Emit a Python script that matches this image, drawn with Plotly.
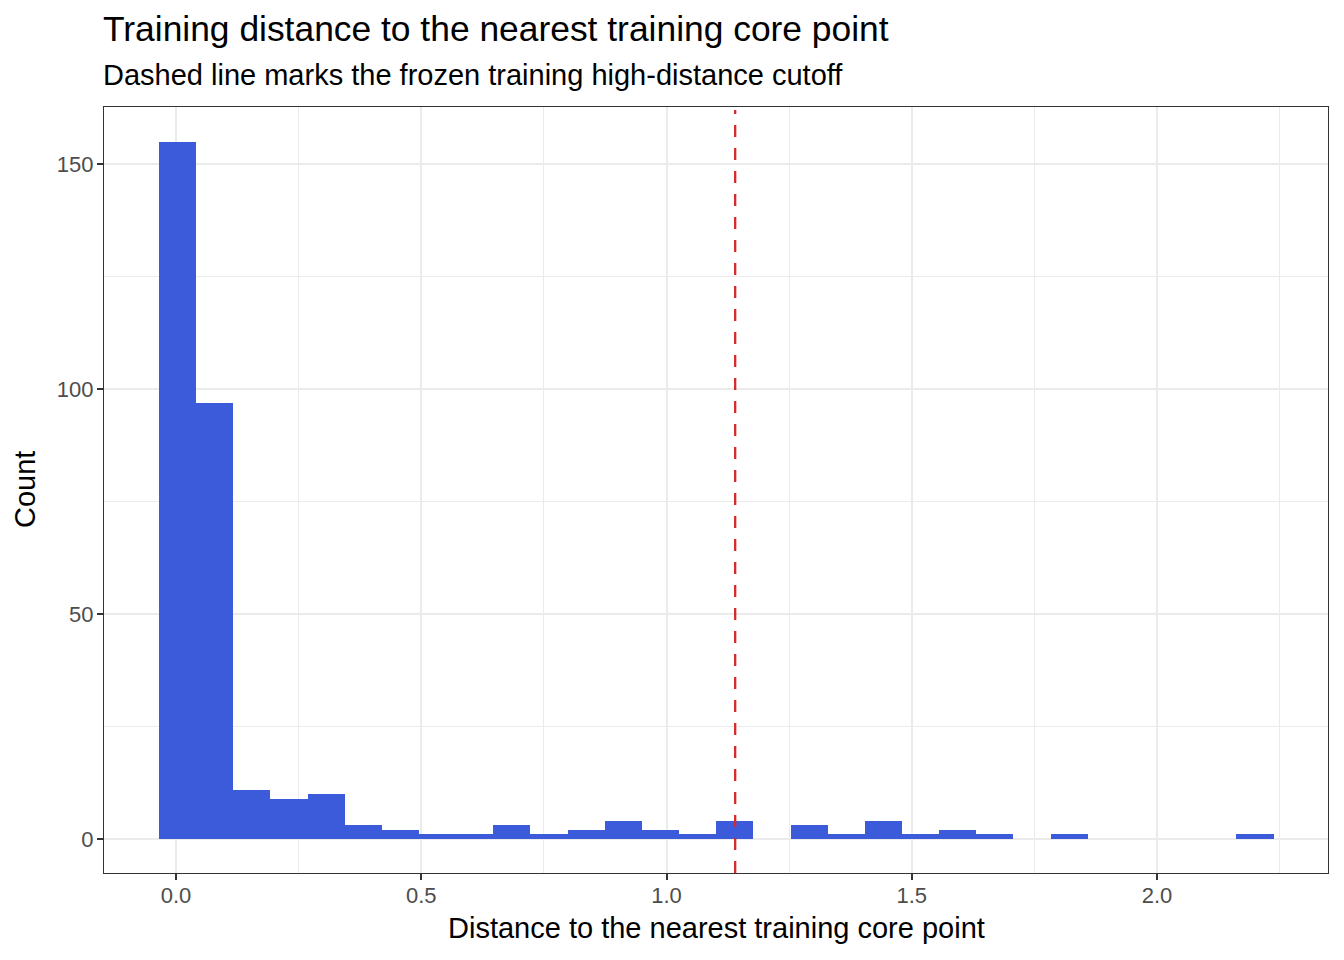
"""
Histogram of training distance to the nearest training core point,
with the frozen high-distance cutoff drawn as a dashed line.
"""

import plotly.graph_objects as go

# 30 equal bins (ggplot-style); first bin centred at the data minimum
bin_first_center = 0.003
bin_width = 0.07575
bin_counts = [155, 97, 11, 9, 10, 3, 2, 1, 1, 3,
              1, 2, 4, 2, 1, 4, 0, 3, 1, 4,
              1, 2, 1, 0, 1, 0, 0, 0, 0, 1]
cutoff = 1.14

x_tick_vals = [0.0, 0.5, 1.0, 1.5, 2.0]
x_tick_text = ["0.0", "0.5", "1.0", "1.5", "2.0"]
y_tick_vals = [0, 50, 100, 150]

title_text = "Training distance to the nearest training core point"
subtitle_text = "Dashed line marks the frozen training high-distance cutoff"
x_title = "Distance to the nearest training core point"
y_title = "Count"

bin_centers = [bin_first_center + i * bin_width for i in range(len(bin_counts))]

FONT = "Liberation Sans, Arial, Helvetica, sans-serif"
GRID = "#EBEBEB"
FRAME = "#333333"

fig = go.Figure()
fig.add_trace(go.Bar(
    x=bin_centers,
    y=bin_counts,
    width=bin_width,
    marker=dict(color="#3B5BDB", line=dict(width=0)),
    hoverinfo="x+y",
    showlegend=False,
))

fig.add_shape(
    type="line", xref="x", yref="paper",
    x0=cutoff, x1=cutoff, y0=0, y1=0.996,
    line=dict(color="#D42A2A", width=2.3, dash="12px,11px"),
)

axis_common = dict(
    showgrid=True, gridcolor=GRID, gridwidth=2.2,
    zeroline=False,
    showline=True, linecolor=FRAME, linewidth=1.3, mirror=True,
    ticks="outside", ticklen=6, tickcolor=FRAME, tickwidth=2,
    tickfont=dict(family=FONT, size=22, color="#4D4D4D"),
)

fig.update_xaxes(
    range=[-0.1468, 2.3486],
    tickvals=x_tick_vals, ticktext=x_tick_text,
    ticklabelstandoff=-4,
    minor=dict(dtick=0.25, tick0=0.25, showgrid=True, gridcolor=GRID, gridwidth=1.1, ticks=""),
    **axis_common,
)
fig.update_yaxes(
    range=[-7.56, 162.7],
    tickvals=y_tick_vals,
    ticklabelstandoff=-1,
    minor=dict(dtick=25, tick0=25, showgrid=True, gridcolor=GRID, gridwidth=1.1, ticks=""),
    **axis_common,
)

# titles placed relative to the panel, ggplot-like
fig.add_annotation(
    text=title_text, xref="paper", yref="paper",
    x=0, y=1, xshift=-3, yshift=78, xanchor="left", yanchor="middle",
    showarrow=False, font=dict(family=FONT, size=35.4, color="black"),
)
fig.add_annotation(
    text=subtitle_text, xref="paper", yref="paper",
    x=0, y=1, xshift=-3, yshift=32, xanchor="left", yanchor="middle",
    showarrow=False, font=dict(family=FONT, size=29, color="black"),
)
fig.add_annotation(
    text=x_title, xref="paper", yref="paper",
    x=0.5, y=0, yshift=-55, xanchor="center", yanchor="middle",
    showarrow=False, font=dict(family=FONT, size=29, color="black"),
)
fig.add_annotation(
    text=y_title, xref="paper", yref="paper", textangle=-90,
    x=0, y=0.5, xshift=-79, xanchor="center", yanchor="middle",
    showarrow=False, font=dict(family=FONT, size=29, color="black"),
)

# page body adds an 8px offset, so the figure is trimmed by that amount
fig.update_layout(
    width=1336, height=952,
    margin=dict(l=96, r=16, t=99, b=87),
    plot_bgcolor="white", paper_bgcolor="white",
    bargap=0,
    font=dict(family=FONT),
)

fig.write_html("out.html")
